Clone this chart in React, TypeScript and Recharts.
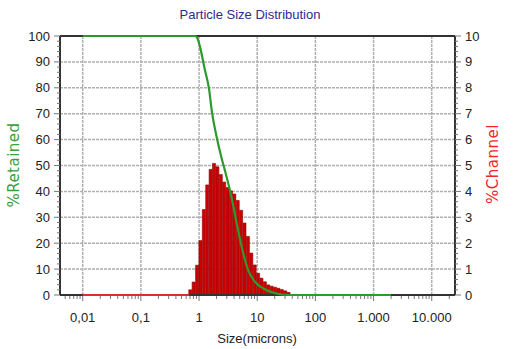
import React from 'react';
import { ComposedChart, Bar, Line, XAxis, YAxis, CartesianGrid, ReferenceLine } from 'recharts';

// Channel histogram (%Channel, right axis)
const channelSizes = [0.711, 0.813, 0.931, 1.064, 1.217, 1.392, 1.592, 1.821, 2.083, 2.382, 2.724, 3.115, 3.562, 4.074, 4.659, 5.329, 6.094, 6.97, 7.971, 9.116, 10.43, 11.92, 13.64, 15.6, 17.84, 20.4, 23.33, 26.68, 30.52, 34.9];
const channelPct = [0.2, 0.5, 1.15, 2.1, 3.3, 4.25, 4.85, 5.08, 4.95, 4.65, 4.36, 4.15, 4.02, 3.9, 3.65, 3.27, 2.78, 2.26, 1.62, 1.16, 0.84, 0.65, 0.51, 0.39, 0.34, 0.3, 0.26, 0.21, 0.16, 0.1];

// Cumulative %Retained (left axis)
const retainedSizes = [0.01, 0.75, 0.843, 0.93, 1.028, 1.253, 1.485, 1.672, 1.99, 2.43, 2.76, 3.37, 3.99, 4.67, 5.57, 6.95, 9.06, 12.6, 18.7, 33.4, 2000];
const retainedPct = [100, 100, 100, 99.3, 96.2, 87.2, 79.5, 70.4, 61.4, 53, 48.4, 40.7, 33, 25.2, 17.4, 9.7, 5.2, 2.6, 0.9, 0, 0];

// Zero-level channel line below the distribution
const zeroSizes = [0.01, 0.68];
const zeroPct = [0, 0];

// Axis ticks
const xMajorTicks = [0.01, 0.1, 1, 10, 100, 1000, 10000];
const xTickLabels = ['0,01', '0,1', '1', '10', '100', '1.000', '10.000'];
const xDomain = [0.00407, 25100];
const leftMajorTicks = [0, 10, 20, 30, 40, 50, 60, 70, 80, 90, 100];
const rightMajorTicks = [0, 1, 2, 3, 4, 5, 6, 7, 8, 9, 10];
const gridY = [10, 20, 30, 40, 50, 60, 70, 80, 90];

const xMinorTicks: number[] = [];
[0.001, 0.01, 0.1, 1, 10, 100, 1000, 10000].forEach((d) => {
  [2, 3, 4, 5, 6, 7, 8, 9].forEach((m) => {
    const v = +(d * m).toPrecision(6);
    if (v > xDomain[0] && v < xDomain[1]) xMinorTicks.push(v);
  });
});
const xTicks = [...xMajorTicks, ...xMinorTicks].sort((a, b) => a - b);
const leftTicks = Array.from({ length: 51 }, (_, i) => i * 2);
const rightTicks = Array.from({ length: 51 }, (_, i) => +(i / 5).toFixed(1));

const channelData = channelSizes.map((s, i) => ({ size: s, pct: channelPct[i] }));
const retainedData = retainedSizes.map((s, i) => ({ size: s, ret: retainedPct[i] }));
const zeroData = zeroSizes.map((s, i) => ({ size: s, z: zeroPct[i] }));

const tickFont = '"Liberation Sans", Arial, sans-serif';

const XTick = (props: any) => {
  const { x, y, payload } = props;
  const idx = xMajorTicks.indexOf(payload.value);
  const major = idx >= 0;
  return (
    <g>
      <line x1={x} x2={x} y1={y + 1} y2={y + (major ? 6 : 4)} stroke="#777" strokeWidth={1} />
      {major && (
        <text x={x} y={y + 22} textAnchor="middle" dominantBaseline="central" fontSize={13} fill="#222" fontFamily={tickFont}>
          {xTickLabels[idx]}
        </text>
      )}
    </g>
  );
};

const LeftTick = (props: any) => {
  const { x, y, payload } = props;
  const major = leftMajorTicks.includes(payload.value);
  return (
    <g>
      <line x1={x} x2={x - (major ? 6 : 3)} y1={y} y2={y} stroke="#777" strokeWidth={1} />
      {major && (
        <text x={x - 10} y={y} textAnchor="end" dominantBaseline="central" fontSize={13} fill="#222" fontFamily={tickFont}>
          {payload.value}
        </text>
      )}
    </g>
  );
};

const RightTick = (props: any) => {
  const { x, y, payload } = props;
  const major = rightMajorTicks.includes(payload.value);
  return (
    <g>
      <line x1={x} x2={x + (major ? 6 : 3)} y1={y} y2={y} stroke="#777" strokeWidth={1} />
      {major && (
        <text x={x + 10} y={y} textAnchor="start" dominantBaseline="central" fontSize={13} fill="#222" fontFamily={tickFont}>
          {payload.value}
        </text>
      )}
    </g>
  );
};

export default function App() {
  return (
    <div style={{ position: 'absolute', left: 0, top: 0, width: 520, height: 349, background: '#fff', fontFamily: tickFont }}>
      <ComposedChart
        width={520}
        height={349}
        data={channelData}
        margin={{ top: 36, right: 0, bottom: 0, left: 0 }}
        barCategoryGap={0}
        barGap={0}
      >
        <CartesianGrid
          xAxisId="main"
          yAxisId="left"
          horizontalValues={gridY}
          verticalValues={xMajorTicks}
          stroke="#b0b0b0"
          strokeWidth={1.5}
          strokeDasharray="3 1"
        />
        <XAxis
          xAxisId="main"
          dataKey="size"
          type="number"
          scale="log"
          domain={xDomain}
          allowDataOverflow
          ticks={xTicks}
          interval={0}
          tick={XTick}
          tickLine={false}
          tickSize={0}
          tickMargin={0}
          height={54}
          axisLine={false}
        />
        <XAxis xAxisId="bars" dataKey="size" type="number" scale="log" domain={xDomain} allowDataOverflow hide height={0} />
        <YAxis
          yAxisId="left"
          type="number"
          domain={[0, 100]}
          ticks={leftTicks}
          interval={0}
          tick={LeftTick}
          tickLine={false}
          tickSize={0}
          tickMargin={0}
          width={60}
          axisLine={{ stroke: '#333', strokeWidth: 2 }}
        />
        <YAxis
          yAxisId="right"
          orientation="right"
          type="number"
          domain={[0, 10]}
          ticks={rightTicks}
          interval={0}
          tick={RightTick}
          tickLine={false}
          tickSize={0}
          tickMargin={0}
          width={65}
          axisLine={{ stroke: '#333', strokeWidth: 2 }}
        />
        <ReferenceLine xAxisId="main" yAxisId="left" y={100} stroke="#333" strokeWidth={2} />
        <ReferenceLine xAxisId="main" yAxisId="left" y={0} stroke="#333" strokeWidth={2} />
        <Bar
          xAxisId="bars"
          yAxisId="right"
          dataKey="pct"
          fill="#cc0000"
          stroke="#8e0000"
          strokeWidth={0.6}
          isAnimationActive={false}
        />
        <Line
          xAxisId="main"
          yAxisId="right"
          data={zeroData}
          dataKey="z"
          type="linear"
          stroke="#d83030"
          strokeWidth={2}
          dot={false}
          isAnimationActive={false}
        />
        <Line
          xAxisId="main"
          yAxisId="left"
          data={retainedData}
          dataKey="ret"
          type="monotone"
          stroke="#2e9a2e"
          strokeWidth={2.2}
          dot={false}
          isAnimationActive={false}
        />
      </ComposedChart>
      <div style={{ position: 'absolute', left: 0, top: 7, width: 500, textAlign: 'center', fontSize: 13, color: '#2d2d8c', lineHeight: '16px' }}>
        Particle Size Distribution
      </div>
      <div style={{ position: 'absolute', left: 14, top: 165, transform: 'translate(-50%, -50%) rotate(-90deg)', whiteSpace: 'nowrap', fontFamily: '"DejaVu Sans", Verdana, sans-serif', fontSize: 15, color: '#3a9e3a', letterSpacing: 0.5 }}>
        %Retained
      </div>
      <div style={{ position: 'absolute', left: 493, top: 164, transform: 'translate(-50%, -50%) rotate(-90deg)', whiteSpace: 'nowrap', fontFamily: '"DejaVu Sans", Verdana, sans-serif', fontSize: 15, color: '#f02828', letterSpacing: 0.5 }}>
        %Channel
      </div>
      <div style={{ position: 'absolute', left: 257, top: 338, transform: 'translate(-50%, -50%)', whiteSpace: 'nowrap', fontSize: 13, color: '#222' }}>
        Size(microns)
      </div>
    </div>
  );
}
